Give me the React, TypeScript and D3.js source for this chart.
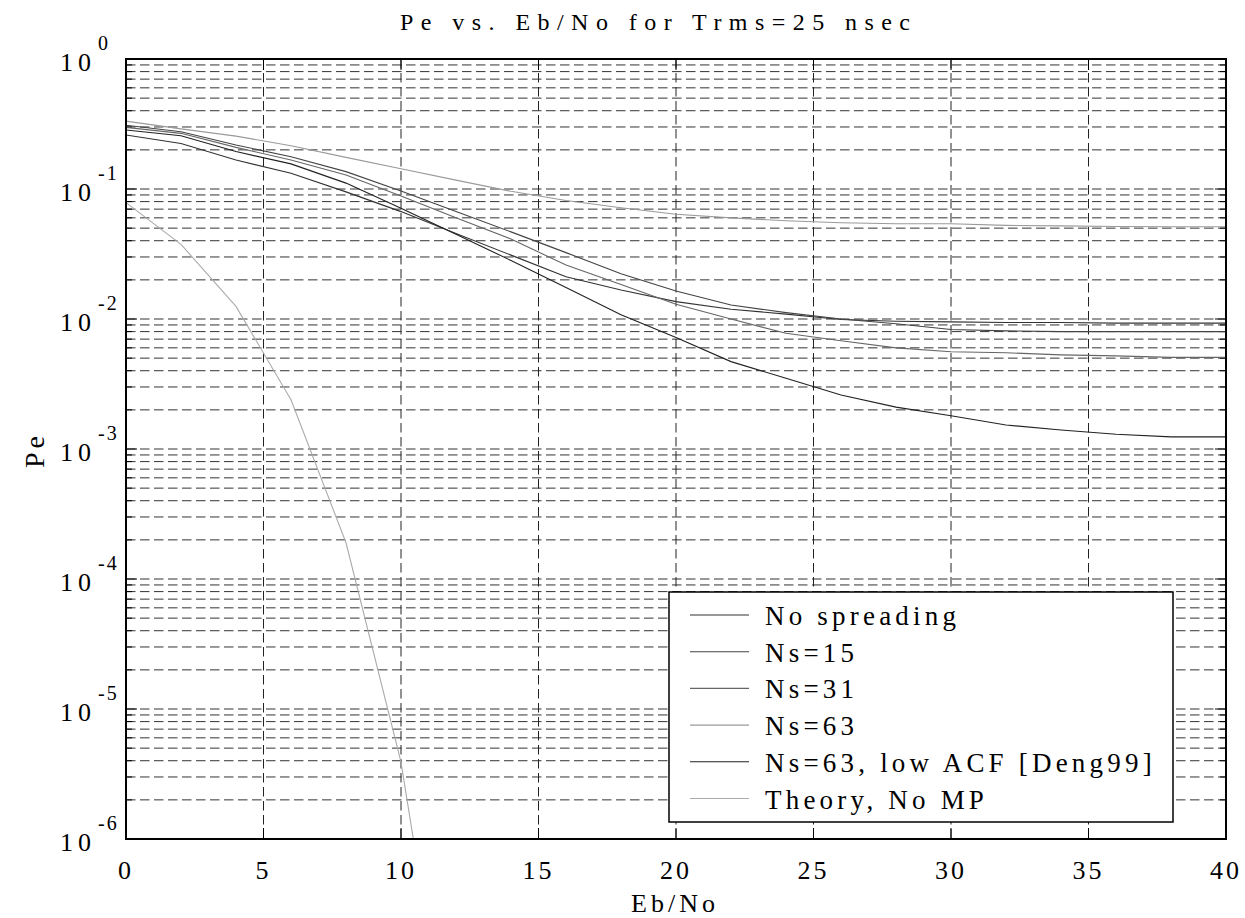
import React from "react";
import * as d3 from "d3";

const ebno = [0, 2, 4, 6, 8, 10, 12, 14, 16, 18, 20, 22, 24, 26, 28, 30, 32, 34, 36, 38, 40];
const noSpreading = [0.26, 0.224, 0.167, 0.132, 0.095, 0.067, 0.0455, 0.031, 0.0211, 0.0167, 0.0136, 0.0119, 0.0109, 0.0099, 0.0096, 0.0095, 0.0094, 0.0094, 0.0093, 0.0093, 0.0093];
const ns15 = [0.309, 0.276, 0.218, 0.177, 0.136, 0.0966, 0.0672, 0.0468, 0.0324, 0.0223, 0.0164, 0.0128, 0.0112, 0.01, 0.0092, 0.0083, 0.0081, 0.008, 0.008, 0.008, 0.008];
const ns31 = [0.298, 0.268, 0.209, 0.167, 0.128, 0.0883, 0.06, 0.0412, 0.026, 0.0184, 0.013, 0.01, 0.00776, 0.0068, 0.006, 0.0056, 0.0055, 0.0053, 0.0052, 0.00507, 0.00507];
const ns63 = [0.333, 0.29, 0.255, 0.215, 0.175, 0.143, 0.117, 0.096, 0.0816, 0.0718, 0.064, 0.06, 0.057, 0.055, 0.054, 0.054, 0.0525, 0.052, 0.0515, 0.0513, 0.0513];
const ns63LowAcf = [0.284, 0.257, 0.194, 0.156, 0.111, 0.071, 0.0448, 0.0282, 0.0175, 0.0108, 0.0072, 0.0047, 0.0035, 0.0026, 0.0021, 0.0018, 0.00153, 0.0014, 0.0013, 0.00124, 0.00124];
const theoryEbNo = [0, 2, 4, 6, 8, 10, 12];
const theoryNoMP = [0.0786, 0.0375, 0.0125, 0.00239, 0.00019, 0.0000039, 0.000000009];

const xTicks = [0, 5, 10, 15, 20, 25, 30, 35, 40];
const yExponents = [0, -1, -2, -3, -4, -5, -6];
const legendLabels = ["No spreading", "Ns=15", "Ns=31", "Ns=63", "Ns=63, low ACF [Deng99]", "Theory, No MP"];

const seriesList = [
  { name: legendLabels[0], x: ebno, y: noSpreading, color: "#333" },
  { name: legendLabels[1], x: ebno, y: ns15, color: "#444" },
  { name: legendLabels[2], x: ebno, y: ns31, color: "#666" },
  { name: legendLabels[3], x: ebno, y: ns63, color: "#9a9a9a" },
  { name: legendLabels[4], x: ebno, y: ns63LowAcf, color: "#222" },
  { name: legendLabels[5], x: theoryEbNo, y: theoryNoMP, color: "#ababab" },
];

const FONT = "'Liberation Serif', 'Times New Roman', serif";

export default function App() {
  const W = 1245, H = 918;
  const L = 126, R = 1226, T = 59, B = 839;
  const x = d3.scaleLinear().domain([0, 40]).range([L, R]);
  const y = d3.scaleLog().domain([1e-6, 1]).range([B, T]);

  const minor: number[] = [];
  for (let e = -6; e < 0; e++) {
    for (let m = 1; m <= 9; m++) minor.push(m * Math.pow(10, e));
  }
  const line = d3.line<[number, number]>().x((d) => x(d[0])).y((d) => y(d[1]));

  const lgL = 669, lgR = 1173, lgT = 592, lgB = 822;
  const rowY0 = 615, rowDY = 36.7;

  return (
    <svg width={W} height={H} style={{ position: "absolute", left: 0, top: 0, background: "#fff" }}>
      <rect x={0} y={0} width={W} height={H} fill="#fff" />
      <defs>
        <clipPath id="plotClip">
          <rect x={L} y={T} width={R - L} height={B - T} />
        </clipPath>
      </defs>
      {minor.map((v, i) => (
        <line key={"h" + i} x1={L} x2={R} y1={y(v)} y2={y(v)} stroke="#333" strokeWidth={1} strokeDasharray="9.5,4.5" />
      ))}
      {xTicks.slice(1, -1).map((t) => (
        <line key={"v" + t} x1={x(t)} x2={x(t)} y1={T} y2={B} stroke="#222" strokeWidth={1} strokeDasharray="9.5,4.5" />
      ))}
      {minor.map((v, i) => {
        const major = Math.abs(Math.log10(v) - Math.round(Math.log10(v))) < 1e-9;
        const len = major ? 11 : 6;
        return (
          <g key={"t" + i}>
            <line x1={L} x2={L + len} y1={y(v)} y2={y(v)} stroke="#000" />
            <line x1={R} x2={R - len} y1={y(v)} y2={y(v)} stroke="#000" />
          </g>
        );
      })}
      {xTicks.map((t) => (
        <g key={"xt" + t}>
          <line x1={x(t)} x2={x(t)} y1={B} y2={B - 11} stroke="#000" />
          <line x1={x(t)} x2={x(t)} y1={T} y2={T + 11} stroke="#000" />
        </g>
      ))}
      <g clipPath="url(#plotClip)">
        {seriesList.map((s) => (
          <path
            key={s.name}
            d={line(s.x.map((xv, i) => [xv, s.y[i]] as [number, number])) || ""}
            fill="none"
            stroke={s.color}
            strokeWidth={1.1}
          />
        ))}
      </g>
      <rect x={L} y={T} width={R - L} height={B - T} fill="none" stroke="#000" strokeWidth={2} />
      {xTicks.map((t) => (
        <text key={"xl" + t} x={x(t)} y={879} textAnchor="middle" fontFamily={FONT} fontSize={26} letterSpacing={3}>
          {t}
        </text>
      ))}
      {yExponents.map((e) => (
        <g key={"yl" + e}>
          <text x={96} y={y(Math.pow(10, e)) + 12} textAnchor="end" fontFamily={FONT} fontSize={26} letterSpacing={5}>
            10
          </text>
          <text x={98} y={y(Math.pow(10, e)) - 9} textAnchor="start" fontFamily={FONT} fontSize={20} letterSpacing={2}>
            {e === 0 ? "0" : "-" + Math.abs(e)}
          </text>
        </g>
      ))}
      <text x={655} y={30} textAnchor="middle" fontFamily={FONT} fontSize={24} textLength={510} lengthAdjust="spacing">
        Pe vs. Eb/No for Trms=25 nsec
      </text>
      <text x={675} y={912} textAnchor="middle" fontFamily={FONT} fontSize={26} letterSpacing={4}>
        Eb/No
      </text>
      <text transform="translate(44,450) rotate(-90)" textAnchor="middle" fontFamily={FONT} fontSize={28} letterSpacing={4}>
        Pe
      </text>
      <rect x={lgL} y={lgT} width={lgR - lgL} height={lgB - lgT} fill="#fff" stroke="#000" strokeWidth={1.5} />
      {seriesList.map((s, i) => (
        <g key={"lg" + i}>
          <line x1={690} x2={749} y1={rowY0 + i * rowDY} y2={rowY0 + i * rowDY} stroke={s.color} strokeWidth={1.1} />
          <text x={765} y={rowY0 + i * rowDY + 10} fontFamily={FONT} fontSize={27} letterSpacing={4.2}>
            {s.name}
          </text>
        </g>
      ))}
    </svg>
  );
}
